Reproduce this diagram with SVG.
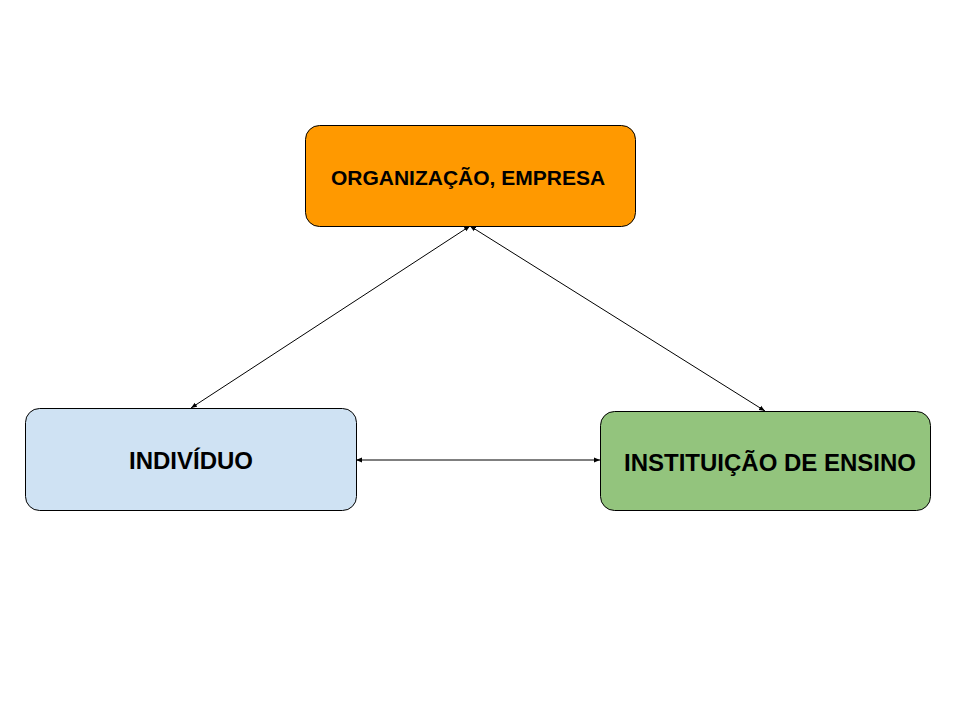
<svg xmlns="http://www.w3.org/2000/svg" width="960" height="720" viewBox="0 0 960 720">
<style>
.box{stroke:#000;stroke-width:1}
.lbl{font-family:"Liberation Sans",Arial,sans-serif;font-weight:bold;text-anchor:middle;fill:#000}
.conn{stroke:#000;stroke-width:1;fill:none;marker-start:url(#ah);marker-end:url(#ah)}
</style>
<defs>
<marker id="ah" viewBox="0 0 10 10" refX="10" refY="5" markerWidth="6" markerHeight="6" markerUnits="userSpaceOnUse" orient="auto-start-reverse">
<path d="M0,1 L10,5 L0,9 Z" fill="#000"/>
</marker>
</defs>
<rect width="960" height="720" fill="#fff"/>
<g id="connectors">
<line class="conn" x1="191" y1="408" x2="470" y2="226"/>
<line class="conn" x1="470" y1="226" x2="765" y2="411"/>
<line class="conn" x1="356" y1="460" x2="600" y2="460"/>
</g>
<g id="organizacao">
<rect class="box" x="305.5" y="125.5" width="330" height="101" rx="14" fill="#ff9900"/>
<text class="lbl" x="468" y="185" font-size="21">ORGANIZAÇÃO, EMPRESA</text>
</g>
<g id="individuo">
<rect class="box" x="25.5" y="408.5" width="331" height="102" rx="14" fill="#cfe2f3"/>
<text class="lbl" x="191" y="469" font-size="24">INDIVÍDUO</text>
</g>
<g id="instituicao">
<rect class="box" x="600.5" y="411.5" width="330" height="99" rx="14" fill="#93c47d"/>
<text class="lbl" x="770" y="471" font-size="24">INSTITUIÇÃO DE ENSINO</text>
</g>
</svg>
